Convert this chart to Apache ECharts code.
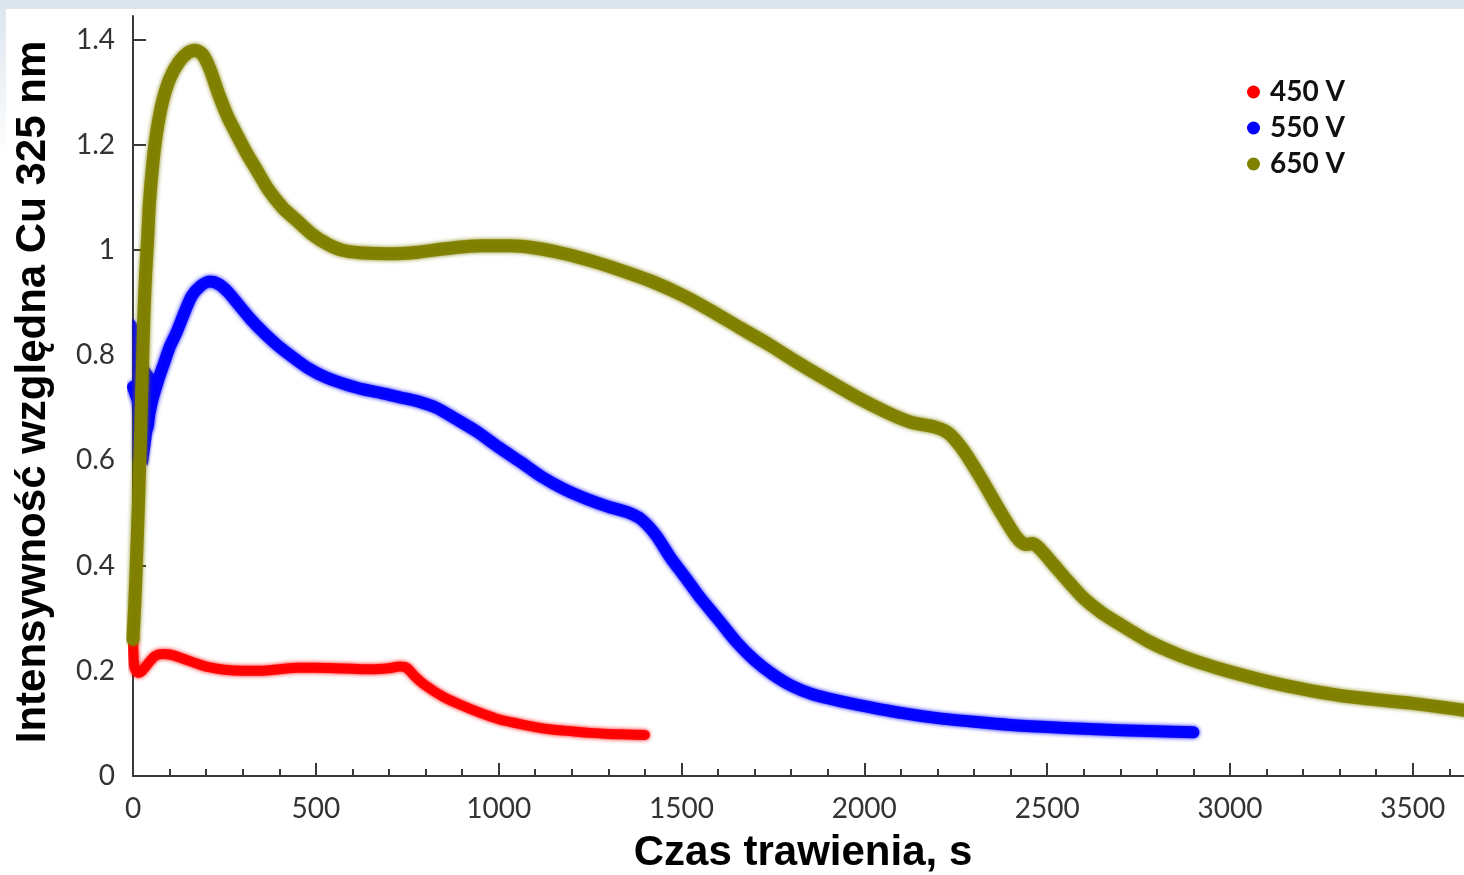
<!DOCTYPE html>
<html>
<head>
<meta charset="utf-8">
<script src="https://cdn.jsdelivr.net/npm/echarts@6/dist/echarts.min.js"></script>
<style>
  html, body { margin: 0; padding: 0; background: #ffffff; }
  #chart { width: 1464px; height: 875px; }
</style>
</head>
<body>
<div id="chart"></div>
<script>
// Relative Cu 325 nm emission intensity versus etching time, three discharge voltages
const seriesNames = ['450 V', '550 V', '650 V'];

// [time s, relative intensity]
const red450 = [
  [0, 0.26], [3, 0.21], [8, 0.2], [15, 0.196], [25, 0.2], [40, 0.213], [60, 0.228],
  [80, 0.232], [100, 0.231], [130, 0.225], [165, 0.216], [200, 0.208], [250, 0.202],
  [300, 0.2], [350, 0.2], [400, 0.203], [450, 0.206], [500, 0.206], [550, 0.205],
  [600, 0.204], [650, 0.203], [700, 0.205], [730, 0.208], [750, 0.205], [770, 0.19],
  [800, 0.172], [850, 0.15], [900, 0.134], [950, 0.12], [1000, 0.108], [1050, 0.1],
  [1100, 0.093], [1150, 0.088], [1200, 0.085], [1250, 0.082], [1300, 0.08],
  [1350, 0.079], [1400, 0.078]
];

const blue550 = [
  [0, 0.74], [10, 0.72], [20, 0.7], [30, 0.67], [38, 0.66], [45, 0.69], [55, 0.72],
  [70, 0.755], [85, 0.785], [100, 0.815], [120, 0.845], [140, 0.88], [160, 0.912],
  [185, 0.932], [210, 0.94], [235, 0.935], [260, 0.92], [290, 0.895], [320, 0.87],
  [350, 0.848], [390, 0.822], [430, 0.8], [480, 0.775], [530, 0.757], [580, 0.745],
  [630, 0.735], [680, 0.728], [730, 0.72], [780, 0.712], [830, 0.7], [880, 0.68],
  [940, 0.655], [1000, 0.625], [1060, 0.597], [1120, 0.568], [1180, 0.545],
  [1240, 0.527], [1300, 0.512], [1350, 0.502], [1390, 0.488], [1430, 0.458],
  [1470, 0.415], [1510, 0.378], [1550, 0.34], [1600, 0.298], [1650, 0.255],
  [1700, 0.22], [1750, 0.193], [1800, 0.172], [1860, 0.155], [1930, 0.143],
  [2000, 0.133], [2100, 0.12], [2200, 0.11], [2300, 0.103], [2400, 0.097],
  [2500, 0.093], [2600, 0.09], [2700, 0.087], [2800, 0.085], [2900, 0.083]
];

// spread of the 550 V signal during the first seconds (upper and lower edge)
const blueStartTime = [0, 10, 20, 30, 40, 50, 60];
const blueStartLow  = [0.6, 0.6, 0.6, 0.6, 0.59, 0.64, 0.71];
const blueStartHigh = [0.87, 0.86, 0.83, 0.8, 0.78, 0.77, 0.76];

const olive650 = [
  [0, 0.26], [5, 0.33], [10, 0.42], [15, 0.52], [20, 0.63], [25, 0.76], [30, 0.88],
  [35, 0.96], [40, 1.02], [45, 1.09], [55, 1.17], [65, 1.225], [80, 1.28], [100, 1.325],
  [125, 1.357], [150, 1.375], [170, 1.38], [190, 1.372], [210, 1.345], [235, 1.295],
  [260, 1.252], [285, 1.218], [310, 1.185], [340, 1.15], [370, 1.115], [410, 1.08],
  [450, 1.055], [490, 1.03], [530, 1.012], [570, 1.0], [620, 0.995], [700, 0.993],
  [780, 0.996], [860, 1.003], [950, 1.008], [1030, 1.008], [1100, 1.004],
  [1180, 0.993], [1260, 0.978], [1340, 0.96], [1420, 0.94], [1500, 0.915],
  [1580, 0.885], [1660, 0.852], [1740, 0.82], [1820, 0.785], [1900, 0.752],
  [1980, 0.72], [2060, 0.692], [2130, 0.672], [2190, 0.664], [2230, 0.652],
  [2270, 0.62], [2320, 0.565], [2370, 0.505], [2415, 0.455], [2440, 0.44],
  [2460, 0.442], [2480, 0.432], [2520, 0.4], [2560, 0.368], [2600, 0.338],
  [2650, 0.31], [2700, 0.288], [2780, 0.255], [2860, 0.23], [2920, 0.215],
  [3000, 0.198], [3100, 0.18], [3200, 0.165], [3300, 0.153], [3400, 0.145],
  [3500, 0.138], [3640, 0.125]
];

const xTicks = [0, 500, 1000, 1500, 2000, 2500, 3000, 3500];
const xTickLabels = ['0', '500', '1000', '1500', '2000', '2500', '3000', '3500'];
const xMinorTicks = [];
for (let t = 100; t < 3640; t += 100) { if (t % 500 !== 0) xMinorTicks.push(t); }
const yTicks = [0, 0.2, 0.4, 0.6, 0.8, 1, 1.2, 1.4];
const yTickLabels = ['0', '0.2', '0.4', '0.6', '0.8', '1', '1.2', '1.4'];

const colors = { '450 V': '#ff0000', '550 V': '#0000ff', '650 V': '#808000' };
const axisColor = '#3a3a3a';
const tickFont = 'Lato';

function labelFor(ticks, labels) {
  return function (v) {
    const i = ticks.findIndex(function (t) { return Math.abs(t - v) < 1e-9; });
    return i >= 0 ? labels[i] : '';
  };
}

function scatterBand(name, data, width) {
  return {
    name: name,
    type: 'line',
    data: data,
    color: colors[name],
    showSymbol: false,
    symbol: 'circle',
    smooth: 0.25,
    lineStyle: {
      width: width,
      color: colors[name],
      cap: 'round',
      join: 'round',
      opacity: 0.95,
      shadowBlur: 4,
      shadowColor: colors[name]
    },
    emphasis: { disabled: true },
    z: 3
  };
}

const chart = echarts.init(document.getElementById('chart'), null, { renderer: 'canvas' });

chart.setOption({
  animation: false,
  backgroundColor: '#ffffff',
  grid: { left: 133, right: 0, top: 16, bottom: 99, containLabel: false, outerBoundsMode: 'none' },
  legend: {
    data: seriesNames,
    orient: 'vertical',
    left: 1247,
    top: 78,
    icon: 'circle',
    itemWidth: 13,
    itemHeight: 13,
    itemGap: 8,
    padding: 0,
    selectedMode: false,
    textStyle: {
      fontFamily: tickFont,
      fontWeight: 'bold',
      fontSize: 28,
      lineHeight: 28,
      color: '#111111',
      padding: [0, 0, 0, 5]
    }
  },
  xAxis: [
    {
      type: 'value',
      min: 0,
      max: 3640,
      position: 'bottom',
      splitLine: { show: false },
      axisLine: { show: true, onZero: false, lineStyle: { color: axisColor, width: 2 } },
      axisTick: { show: true, inside: true, length: 13, customValues: xTicks, lineStyle: { color: axisColor, width: 2 } },
      axisLabel: {
        show: true,
        customValues: xTicks,
        formatter: labelFor(xTicks, xTickLabels),
        margin: 19,
        fontFamily: tickFont,
        fontSize: 28,
        color: '#333333'
      }
    },
    {
      type: 'value',
      min: 0,
      max: 3640,
      position: 'bottom',
      splitLine: { show: false },
      axisLine: { show: false },
      axisLabel: { show: false },
      axisTick: { show: true, inside: true, length: 7, customValues: xMinorTicks, lineStyle: { color: axisColor, width: 2 } }
    }
  ],
  yAxis: {
    type: 'value',
    min: 0,
    max: 1.445,
    splitLine: { show: false },
    axisLine: { show: true, onZero: false, lineStyle: { color: axisColor, width: 2 } },
    axisTick: { show: true, inside: true, length: 13, customValues: yTicks, lineStyle: { color: axisColor, width: 2 } },
    axisLabel: {
      show: true,
      customValues: yTicks,
      formatter: labelFor(yTicks, yTickLabels),
      margin: 18,
      fontFamily: tickFont,
      fontSize: 28,
      color: '#333333'
    }
  },
  graphic: [
    { type: 'rect', left: 0, top: 0, shape: { width: 1464, height: 9 }, style: { fill: '#dde6ee' }, silent: true },
    {
      type: 'rect', left: 0, top: 9, shape: { width: 6, height: 150 }, silent: true,
      style: { fill: new echarts.graphic.LinearGradient(0, 0, 0, 1, [
        { offset: 0, color: '#dde6ee' }, { offset: 1, color: '#ffffff' }
      ]) }
    },
    {
      type: 'text', x: 803, y: 853, silent: true,
      style: {
        text: 'Czas trawienia, s',
        font: 'bold 42px "Liberation Sans", Arial, sans-serif',
        fill: '#000000',
        textAlign: 'center',
        textVerticalAlign: 'middle'
      }
    },
    {
      type: 'text', x: 33, y: 392, rotation: Math.PI / 2, silent: true,
      style: {
        text: 'Intensywność względna Cu 325 nm',
        font: 'bold 42px "Liberation Sans", Arial, sans-serif',
        fill: '#000000',
        textAlign: 'center',
        textVerticalAlign: 'middle'
      }
    }
  ],
  series: [
    scatterBand('450 V', red450, 10),
    {
      // filled envelope of the noisy 550 V start
      name: 'start550spread',
      type: 'custom',
      coordinateSystem: 'cartesian2d',
      data: [[blueStartTime[0], blueStartHigh[0]]],
      encode: { x: 0, y: 1 },
      clip: false,
      renderItem: function (params, api) {
        const pts = [];
        for (let i = 0; i < blueStartTime.length; i++) pts.push(api.coord([blueStartTime[i], blueStartHigh[i]]));
        for (let i = blueStartTime.length - 1; i >= 0; i--) pts.push(api.coord([blueStartTime[i], blueStartLow[i]]));
        return {
          type: 'polygon',
          shape: { points: pts },
          style: { fill: '#0000ff', opacity: 0.9, shadowBlur: 3, shadowColor: '#0000ff' }
        };
      },
      silent: true,
      z: 2
    },
    scatterBand('550 V', blue550, 12),
    scatterBand('650 V', olive650, 13)
  ]
});
</script>
</body>
</html>
